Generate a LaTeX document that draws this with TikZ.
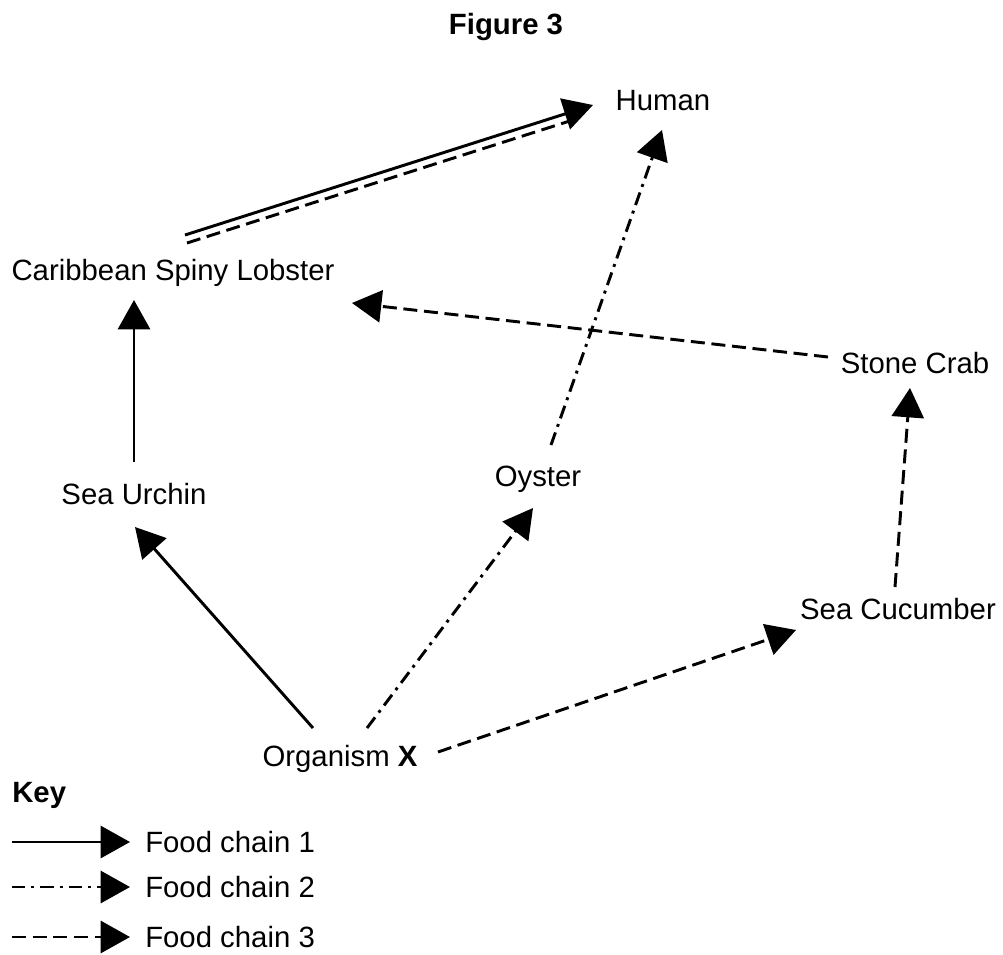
\documentclass[tikz,border=0pt]{standalone}
\usepackage{fontspec}
\setmainfont{Liberation Sans}
\usetikzlibrary{arrows.meta}
\begin{document}
\begin{tikzpicture}[x=0.75pt,y=-0.75pt,
  lbl/.style={font=\fontsize{22}{26}\selectfont, inner sep=0pt, anchor=center},
  blbl/.style={font=\bfseries\fontsize{22}{26}\selectfont, inner sep=0pt},
  tip/.style={-{Triangle[length=22pt,width=24pt]}},
  fc1/.style={line width=2.2pt},
  fc2/.style={line width=2.2pt, dash pattern=on 10pt off 4.5pt on 2.2pt off 4.5pt},
  fc3/.style={line width=2.2pt, dash pattern=on 10.5pt off 5pt}]
\useasboundingbox (0,0) rectangle (1003,954);

\node[blbl] (title) at (506,27) {Figure 3};
\node[lbl] (hum) at (663,101) {Human};
\node[lbl] (lob) at (173,273) {Caribbean Spiny Lobster};
\node[lbl] (crab) at (915,363) {Stone Crab};
\node[lbl] (urch) at (134,494) {Sea Urchin};
\node[lbl] (oys) at (538,479) {Oyster};
\node[lbl] (cuc) at (898,609) {Sea Cucumber};
\node[lbl] (org) at (340,759) {Organism \textbf{X}};

% Food chain 1 + 3 (parallel) lobster -> human
\draw[fc1,tip] ([shift={(12,-38)}]lob.center) -- ([shift={(-70,4)}]hum.center);
\draw[fc3] ([shift={(14,-30)}]lob.center) -- ([shift={(-87,18)}]hum.center);

% Food chain 1
\draw[fc1,tip] ([shift={(0,-32)}]urch.center) -- ([shift={(-39,27)}]lob.center);
\draw[fc1,tip] ([shift={(-27,-31)}]org.center) -- ([shift={(1,33)}]urch.center);

% Food chain 2
\draw[fc2,tip] ([shift={(27,-31)}]org.center) -- ([shift={(-5,29)}]oys.center);
\draw[fc2,tip] ([shift={(13,-34)}]oys.center) -- ([shift={(-1,29)}]hum.center);

% Food chain 3
\draw[fc3,tip] ([shift={(98,-7)}]org.center) -- ([shift={(-102,21)}]cuc.center);
\draw[fc3,tip] ([shift={(-3,-22)}]cuc.center) -- ([shift={(-5,25)}]crab.center);
\draw[fc3,tip] ([shift={(-87,-6)}]crab.center) -- ([shift={(179,30)}]lob.center);

% Key
\node[blbl,anchor=west] (key) at (12,795) {Key};
\coordinate (k1a) at (12,842); \coordinate (k1b) at (130,842);
\coordinate (k2a) at (12,887); \coordinate (k2b) at (130,887);
\coordinate (k3a) at (12,937); \coordinate (k3b) at (130,937);
\draw[fc1,tip] (k1a) -- (k1b);
\draw[fc2,tip] (k2a) -- (k2b);
\draw[fc3,tip] (k3a) -- (k3b);
\node[lbl,anchor=west] (t1) at (145,842) {Food chain 1};
\node[lbl,anchor=west] (t2) at (145,887) {Food chain 2};
\node[lbl,anchor=west] (t3) at (145,937) {Food chain 3};
\end{tikzpicture}
\end{document}
